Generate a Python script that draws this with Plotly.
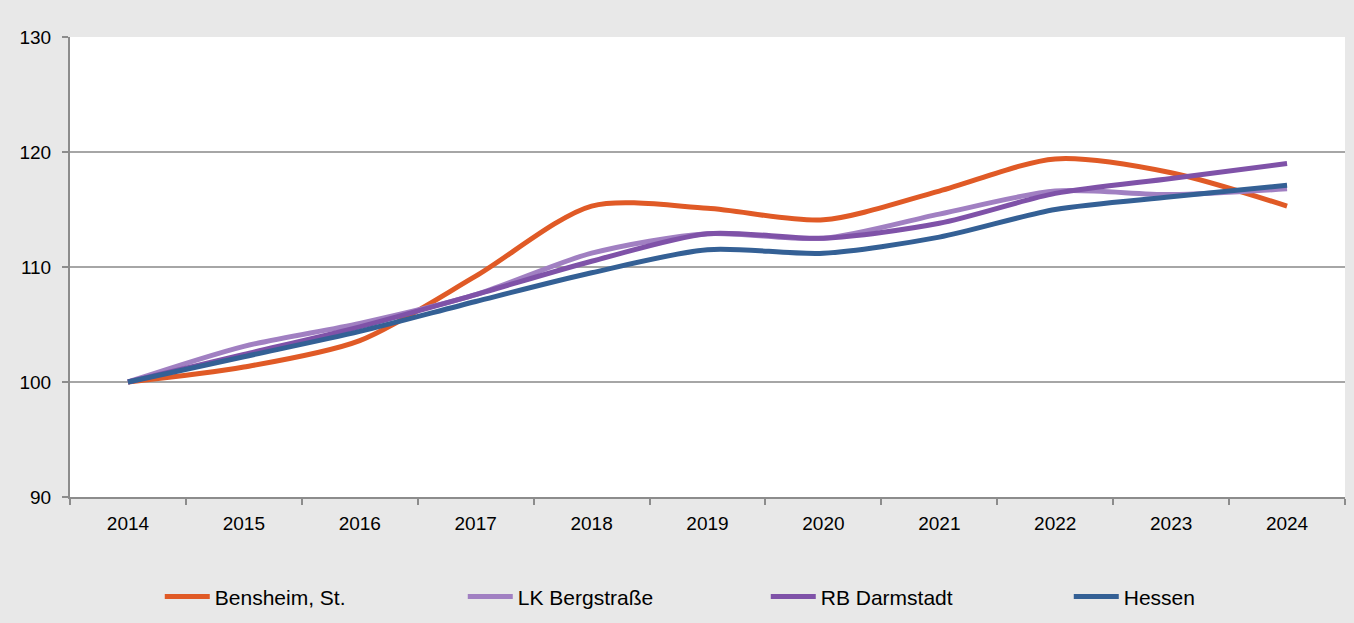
import plotly.graph_objects as go

years = ["2014", "2015", "2016", "2017", "2018", "2019", "2020", "2021", "2022", "2023", "2024"]
bensheim = [100, 101.3, 103.6, 109.2, 115.3, 115.1, 114.1, 116.6, 119.4, 118.2, 115.3]
lk_bergstrasse = [100, 103.1, 105.1, 107.6, 111.2, 112.9, 112.5, 114.6, 116.6, 116.3, 116.8]
rb_darmstadt = [100, 102.4, 104.8, 107.6, 110.5, 112.9, 112.5, 113.8, 116.4, 117.7, 119.0]
hessen = [100, 102.2, 104.4, 107.0, 109.5, 111.5, 111.2, 112.6, 115.0, 116.1, 117.1]

series = [
    ("Bensheim, St.", bensheim, "#E05A26"),
    ("LK Bergstraße", lk_bergstrasse, "#A180C2"),
    ("RB Darmstadt", rb_darmstadt, "#7F52A8"),
    ("Hessen", hessen, "#346095"),
]

FONT = "Liberation Sans Narrow, Arial Narrow, Liberation Sans, Arial, sans-serif"

fig = go.Figure()
for name, vals, col in series:
    fig.add_trace(go.Scatter(
        x=years, y=vals, name=name, mode="lines",
        line=dict(color=col, width=5, shape="spline", smoothing=0.8),
    ))

fig.update_layout(
    width=1354, height=623,
    paper_bgcolor="#E8E8E8", plot_bgcolor="#FFFFFF",
    margin=dict(l=70, r=9, t=37, b=126),
    font=dict(family=FONT, size=19, color="#000000"),
    showlegend=True,
    legend=dict(
        orientation="h", xref="container", yref="container",
        x=0.118, y=0.042, xanchor="left", yanchor="middle",
        font=dict(family=FONT, size=21, color="#000000"),
        entrywidth=243, entrywidthmode="pixels", itemwidth=45,
        bgcolor="rgba(0,0,0,0)",
    ),
    xaxis=dict(
        type="category", range=[-0.5, 10.5],
        showgrid=False, showline=True, linecolor="#8C8C8C", linewidth=2,
        ticks="outside", tickson="boundaries", ticklen=6, tickcolor="#8C8C8C", tickwidth=2,
        tickfont=dict(family=FONT, size=19), ticklabelstandoff=8, mirror=False,
    ),
    yaxis=dict(
        range=[90, 130], tickvals=[90, 100, 110, 120, 130],
        showgrid=True, gridcolor="#A6A6A6", gridwidth=1.5,
        showline=True, linecolor="#8C8C8C", linewidth=2,
        ticks="outside", ticklen=6, tickcolor="#8C8C8C", tickwidth=2,
        tickfont=dict(family=FONT, size=19), ticklabelstandoff=7, zeroline=False,
    ),
)

fig.write_html(
    "out.html",
    config={"displayModeBar": False},
    post_script="document.body.style.margin='0';document.body.style.background='#E8E8E8';",
)
